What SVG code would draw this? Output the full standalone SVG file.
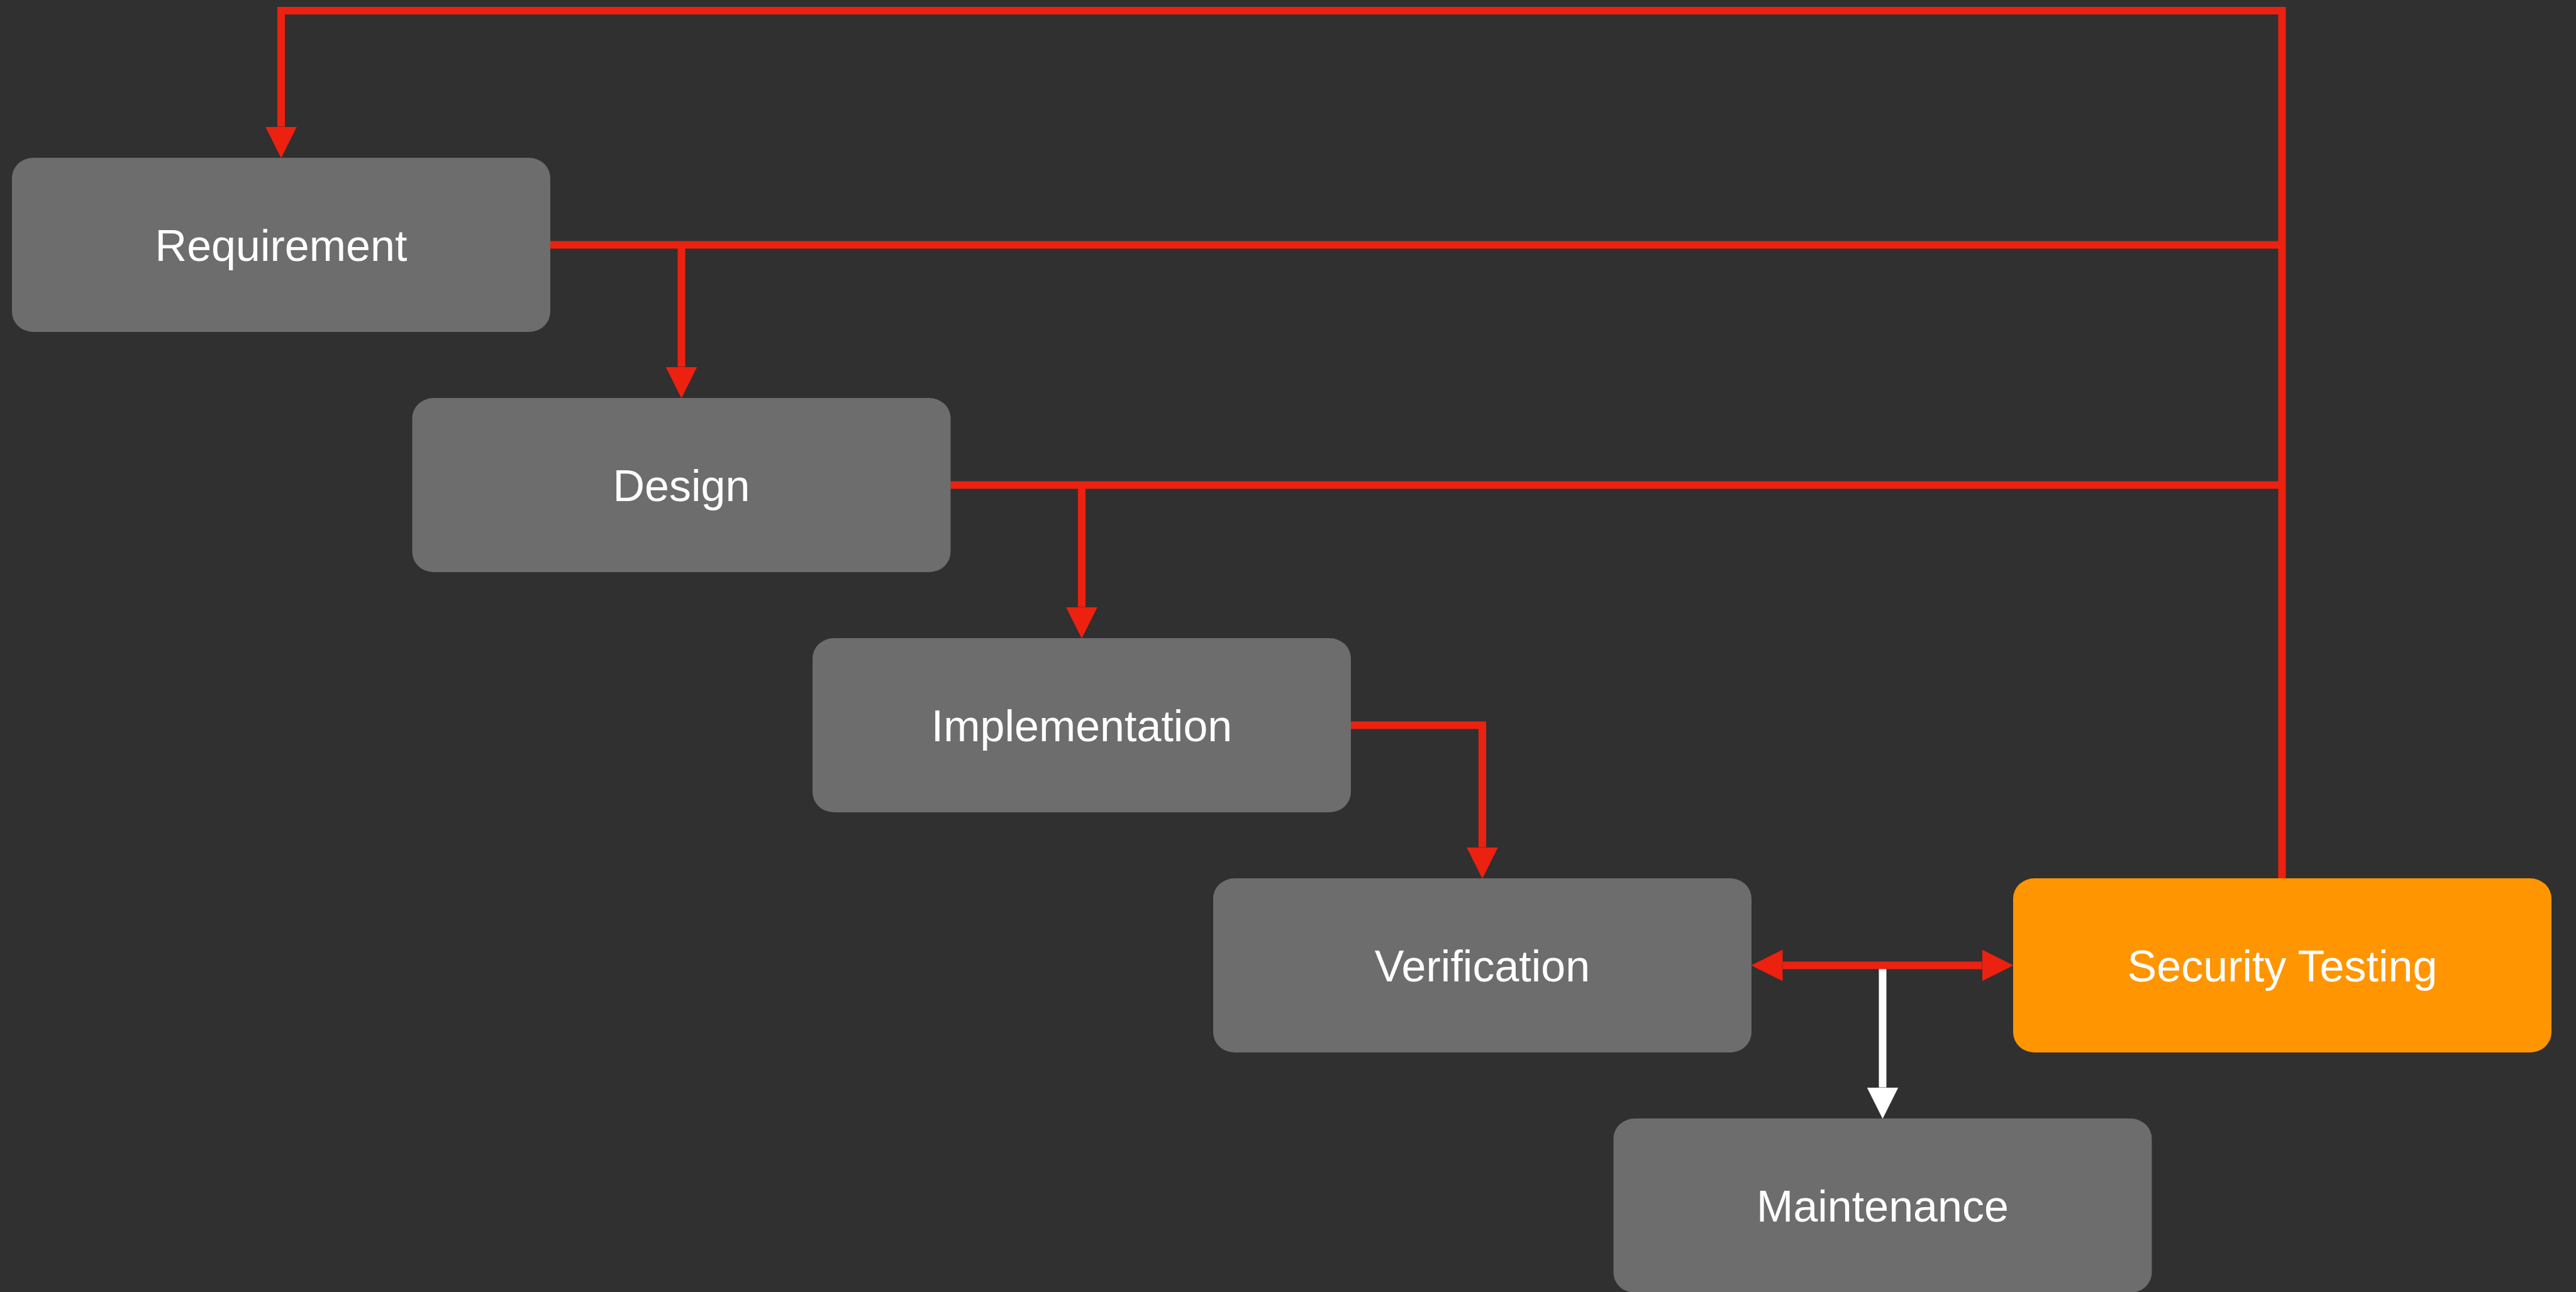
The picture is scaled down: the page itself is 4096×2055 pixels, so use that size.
<svg xmlns="http://www.w3.org/2000/svg" width="4096" height="2055" viewBox="0 0 4096 2055">
  <defs>
    <style>
      .node { fill: #6d6d6d; }
      .node.accent { fill: #ff9500; }
      .label { fill: #ffffff; font-family: "Liberation Sans", Arial, Helvetica, sans-serif; font-size: 70px; text-anchor: middle; }
      .wire { fill: none; stroke: #ed2110; stroke-width: 12; stroke-linejoin: miter; stroke-linecap: butt; }
      .wire.light { stroke: #ffffff; }
    </style>
    <marker id="head-red" markerUnits="userSpaceOnUse" viewBox="0 0 50 50" markerWidth="50" markerHeight="50" refX="0" refY="25" orient="auto-start-reverse">
      <path d="M0,0 L50,25 L0,50 Z" fill="#ed2110"/>
    </marker>
    <marker id="head-white" markerUnits="userSpaceOnUse" viewBox="0 0 50 50" markerWidth="50" markerHeight="50" refX="0" refY="25" orient="auto">
      <path d="M0,0 L50,25 L0,50 Z" fill="#ffffff"/>
    </marker>
  </defs>

  <rect width="4096" height="2055" fill="#303030"/>

  <g id="connectors">
    <!-- verification hands over to maintenance -->
    <path class="wire light" d="M2993.5,1535.5 V1729.5" marker-end="url(#head-white)"/>
    <!-- security testing feeds back to requirement -->
    <path class="wire" d="M3628.5,1397 V17 H447 V201.5" marker-end="url(#head-red)"/>
    <!-- requirement tap to the security bus, and down to design -->
    <path class="wire" d="M875,389.5 H3628.5"/>
    <path class="wire" d="M1083.5,389.5 V583.5" marker-end="url(#head-red)"/>
    <!-- design tap to the security bus, and down to implementation -->
    <path class="wire" d="M1511.5,771.5 H3628.5"/>
    <path class="wire" d="M1720,771.5 V965.5" marker-end="url(#head-red)"/>
    <!-- implementation to verification -->
    <path class="wire" d="M2148,1153.5 H2357 V1347.5" marker-end="url(#head-red)"/>
    <!-- verification and security testing, both ways -->
    <path class="wire" d="M2834.5,1535.5 H3151.5" marker-start="url(#head-red)" marker-end="url(#head-red)"/>
  </g>

  <g id="node-requirement">
    <rect class="node" x="19" y="251" width="856" height="277" rx="34" ry="32"/>
    <text class="label" x="447" y="414.5">Requirement</text>
  </g>
  <g id="node-design">
    <rect class="node" x="655.5" y="633" width="856" height="277" rx="34" ry="32"/>
    <text class="label" x="1083.5" y="796.5">Design</text>
  </g>
  <g id="node-implementation">
    <rect class="node" x="1292" y="1015" width="856" height="277" rx="34" ry="32"/>
    <text class="label" x="1720" y="1178.5">Implementation</text>
  </g>
  <g id="node-verification">
    <rect class="node" x="1929" y="1397" width="856" height="277" rx="34" ry="32"/>
    <text class="label" x="2357" y="1560.5">Verification</text>
  </g>
  <g id="node-maintenance">
    <rect class="node" x="2565.5" y="1779" width="856" height="277" rx="34" ry="32"/>
    <text class="label" x="2993.5" y="1942.5">Maintenance</text>
  </g>
  <g id="node-security-testing">
    <rect class="node accent" x="3201" y="1397" width="856" height="277" rx="34" ry="32"/>
    <text class="label" x="3629" y="1560.5">Security Testing</text>
  </g>
</svg>
